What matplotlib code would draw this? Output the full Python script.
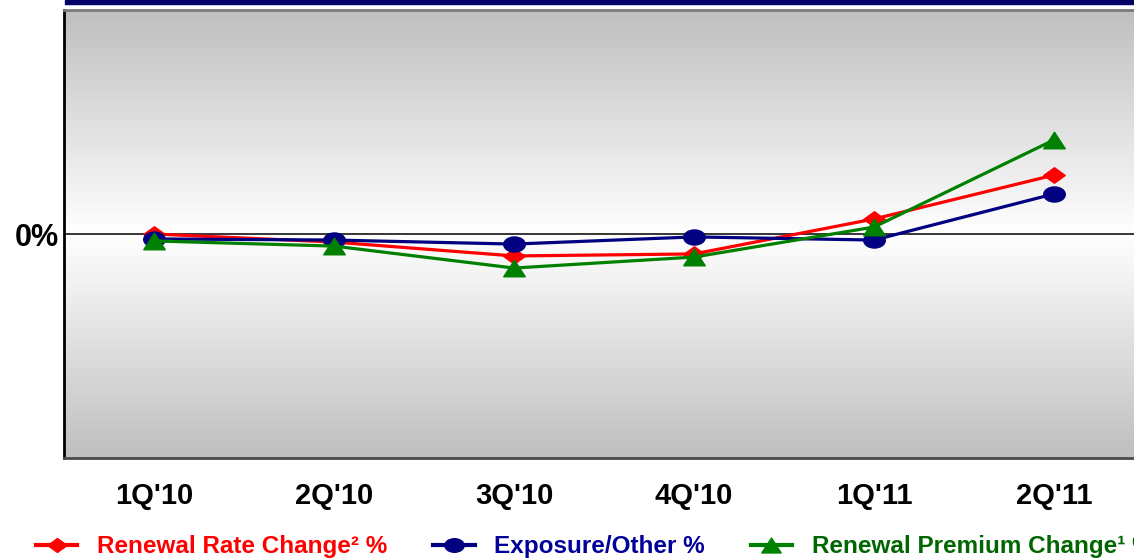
import numpy as np
import matplotlib
matplotlib.use("Agg")
from matplotlib import pyplot as plt
from matplotlib.path import Path
from matplotlib.colors import LinearSegmentedColormap
from matplotlib.patches import Rectangle

plt.rcParams['font.family'] = ['Liberation Sans', 'DejaVu Sans']
plt.rcParams['font.weight'] = 'bold'

# quarters and the three series (in %)
quarters = ["1Q'10", "2Q'10", "3Q'10", "4Q'10", "1Q'11", "2Q'11"]
rate_change = [0.0, -0.36, -0.98, -0.89, 0.67, 2.63]
exposure_other = [-0.22, -0.27, -0.45, -0.13, -0.27, 1.79]
premium_change = [-0.31, -0.54, -1.52, -1.03, 0.31, 4.2]

# flattened marker shapes
diamond = Path([(0, 0.72), (1, 0), (0, -0.72), (-1, 0), (0, 0.72)],
               [Path.MOVETO, Path.LINETO, Path.LINETO, Path.LINETO, Path.CLOSEPOLY])
circ = Path.unit_circle()
ellipse = Path(circ.vertices * np.array([1.0, 0.7]), circ.codes)
triangle = Path([(0, 0.77), (1, -0.77), (-1, -0.77), (0, 0.77)],
                [Path.MOVETO, Path.LINETO, Path.LINETO, Path.CLOSEPOLY])

W, H = 1134, 560
fig = plt.figure(figsize=(W / 100, H / 100), dpi=100)
ax = fig.add_axes([64 / W, (H - 458) / H, 1080 / W, 448 / H])

x = np.arange(len(quarters))
ax.set_xlim(-0.5, 5.5)
ax.set_ylim(-10, 10)

# grey -> white -> grey background
cmap = LinearSegmentedColormap.from_list("bg", ["#ffffff", "#bfbfbf"])
grad = np.abs(np.linspace(-1, 1, 256)).reshape(-1, 1)
ax.imshow(grad, cmap=cmap, extent=[-0.5, 5.5, -10, 10], aspect='auto',
          origin='lower', zorder=0, vmin=0, vmax=1)

ax.axhline(0, color='black', lw=1.1, zorder=1)

ms = 15.5
lw = 2.3
l_red, = ax.plot(x, rate_change, color='#ff0000', lw=lw, marker=diamond, ms=ms, zorder=3)
l_blue, = ax.plot(x, exposure_other, color='#000080', lw=lw, marker=ellipse, ms=ms, zorder=3)
l_green, = ax.plot(x, premium_change, color='#008000', lw=lw, marker=triangle, ms=ms, zorder=4)

ax.set_xticks(x)
ax.set_xticklabels(quarters, fontsize=21, fontweight='bold')
ax.set_yticks([0])
ax.set_yticklabels(['0%'], fontsize=22, fontweight='bold')
ax.tick_params(axis='x', length=0, pad=17)
ax.tick_params(axis='y', length=0, pad=4)

ax.spines['left'].set_color('black')
ax.spines['left'].set_linewidth(2)
ax.spines['top'].set_color('#7a7a7a')
ax.spines['top'].set_linewidth(2)
ax.spines['bottom'].set_color('#4a4a4a')
ax.spines['bottom'].set_linewidth(2)
ax.spines['right'].set_visible(False)

# navy bar across the top
fig.patches.append(Rectangle((65 / W, (H - 4) / H), (W - 65) / W, 4 / H,
                             transform=fig.transFigure, color='#000066', zorder=5))

labels = ["Renewal Rate Change\u00b2 %", "Exposure/Other %", "Renewal Premium Change\u00b9 %"]
leg = fig.legend([l_red, l_blue, l_green], labels, loc='center left',
                 bbox_to_anchor=(36 / W, (H - 547) / H), ncol=3, frameon=False,
                 borderpad=0, borderaxespad=0, handlelength=1.7, handletextpad=0.8,
                 columnspacing=1.9, markerscale=0.9,
                 prop={'size': 17.5, 'weight': 'bold'})
for txt, c in zip(leg.get_texts(), ['#ff0000', '#000099', '#006600']):
    txt.set_color(c)
for h in leg.legend_handles:
    h.set_linewidth(3)

fig.savefig("out.png", dpi=100)
